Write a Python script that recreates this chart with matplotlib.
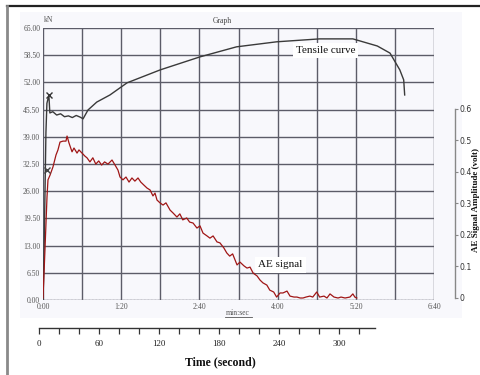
import matplotlib
matplotlib.use("Agg")
import matplotlib.pyplot as plt
from matplotlib.lines import Line2D
from matplotlib.patches import Rectangle

# ---------------- data ----------------
# Tensile curve: time (s, graph clock) vs load (kN)
tensile_t = [0, 1, 2, 3, 4, 6, 7, 10, 14, 18, 22, 26, 30, 34, 38, 41, 46, 55, 68.5, 86,
             120, 160.6, 198, 239, 283, 317, 342, 355, 365, 369, 370]
tensile_kn = [0, 10, 25, 40, 47, 49.0, 44.7, 45.0, 44.2, 44.5, 43.8, 44.0, 43.6, 44.1, 43.7,
              43.3, 45.4, 47.3, 49.0, 51.9, 55.0, 58.1, 60.5, 61.7, 62.4, 62.4, 60.7, 59.0,
              55.0, 52.6, 49.0]

# AE signal: time (s) vs amplitude (volt)
ae_t = [0, 2, 4.1, 5.1, 7.2, 10.2, 13.3, 15.3, 17.4, 20.5, 23.5, 24.6, 26.6, 29.7, 31.7,
        34.8, 36.8, 39.9, 43, 45, 48, 51, 54, 57, 60, 63, 66.5, 70.6, 73.7, 76.7, 78.8,
        81.8, 84.9, 88, 91, 94, 97.2, 100, 103, 106.4, 109.5, 112.5, 114.6, 116.6, 119.7,
        122.8, 125.8, 130, 133, 137, 140, 143, 147, 150, 153.5, 157.5, 160.6, 163.7, 167.8,
        170.8, 174, 178, 181, 185, 188, 191, 194, 198.5, 201.5, 205.6, 208.7, 211.8, 215,
        219, 222, 225, 229, 232, 236, 239, 242.5, 245.5, 249.6, 252.7, 256.8, 259.8, 263,
        266, 269, 273, 276, 280, 283, 287.5, 290.5, 293.6, 297.7, 301.8, 304.9, 309, 314,
        317, 319, 321]
ae_v = [0, 0.152, 0.321, 0.375, 0.39, 0.416, 0.454, 0.47, 0.495, 0.498, 0.498, 0.514,
        0.492, 0.464, 0.476, 0.46, 0.47, 0.46, 0.45, 0.445, 0.432, 0.445, 0.425, 0.435,
        0.422, 0.432, 0.425, 0.438, 0.422, 0.406, 0.384, 0.375, 0.384, 0.368, 0.381, 0.371,
        0.381, 0.368, 0.359, 0.349, 0.343, 0.324, 0.333, 0.311, 0.302, 0.295, 0.302, 0.279,
        0.27, 0.257, 0.267, 0.248, 0.254, 0.241, 0.238, 0.222, 0.229, 0.206, 0.197, 0.19,
        0.197, 0.178, 0.175, 0.159, 0.143, 0.133, 0.14, 0.105, 0.114, 0.102, 0.095, 0.098,
        0.079, 0.07, 0.057, 0.048, 0.041, 0.025, 0.019, 0.003, 0.016, 0.016, 0.022, 0.006,
        0.003, 0.003, 0, 0, 0.003, 0.006, 0.003, 0.019, 0.003, 0.006, 0, 0.013, 0.003, 0,
        0.003, 0, 0.003, 0.013, 0.003, 0]

# markers
tensile_mark = (6, 49.0)
ae_mark = (4.1, 0.406)

# tick labels
load_ticks = [0, 6.5, 13, 19.5, 26, 32.5, 39, 45.5, 52, 58.5, 65]
load_labels = ["0.00", "6.50", "13.00", "19.50", "26.00", "32.50", "39.00", "45.50",
               "52.00", "58.50", "65.00"]
clock_ticks = [0, 80, 160, 240, 320, 400]
clock_labels = ["0:00", "1:20", "2:40", "4:00", "5:20", "6:40"]
volt_ticks = [0, 0.1, 0.2, 0.3, 0.4, 0.5, 0.6]
volt_labels = ["0", "0.1", "0.2", "0.3", "0.4", "0.5", "0.6"]
sec_ticks = list(range(0, 321, 20))
sec_labels = ["0", "60", "120", "180", "240", "300"]

SERIF = ["Liberation Serif", "DejaVu Serif"]
W, H = 480, 375

fig = plt.figure(figsize=(4.8, 3.75), dpi=100)
fig.patch.set_facecolor("white")

def fx(px):
    return px / W

def fy(py):
    return (H - py) / H

# scanned background tint
bg = Rectangle((fx(20), fy(318)), fx(442), (318 - 12) / H,
               transform=fig.transFigure, facecolor="#f8f8fc", edgecolor="none", zorder=-5)
fig.patches.append(bg)
# outer frame
fig.lines.append(Line2D([fx(7), fx(480)], [fy(6), fy(6)], transform=fig.transFigure,
                        color="#222222", lw=1.6, zorder=-4))
fig.lines.append(Line2D([fx(7), fx(7)], [fy(6), fy(375)], transform=fig.transFigure,
                        color="#8a8a8a", lw=2.0, zorder=-4))

# ---------------- main graph ----------------
ax = fig.add_axes([fx(43), fy(300), fx(391), 272 / H])
ax.set_facecolor("none")
ax.set_xlim(0, 400)
ax.set_ylim(0, 65)
for s in ax.spines.values():
    s.set_visible(False)
ax.set_xticks(list(range(0, 401, 40)))
ax.set_xticklabels([clock_labels[clock_ticks.index(v)] if v in clock_ticks else ""
                    for v in range(0, 401, 40)])
ax.set_yticks(load_ticks)
ax.set_yticklabels(load_labels)
ax.tick_params(length=0, labelsize=5.5, colors="#555555", pad=2)
for lab in ax.get_xticklabels() + ax.get_yticklabels():
    lab.set_family(SERIF)
ax.grid(True, color="#5c5c68", lw=1.0)
ax.axhline(0, color="#9a9aa5", lw=1.0, ls=(0, (1, 1.5)), zorder=2)
ax.set_axisbelow(True)

ax.plot(tensile_t, tensile_kn, color="#3a3a3a", lw=1.0, zorder=3)
ax.plot(*tensile_mark, marker="x", color="#333333", ms=4, mew=1, zorder=4)

ax.text(259, 59.6, "Tensile curve", family=SERIF, fontsize=8, color="#111111",
        va="center", ha="left", zorder=5,
        bbox=dict(facecolor="white", edgecolor="none", pad=2))
ax.text(220, 8.4, "AE signal", family=SERIF, fontsize=8, color="#111111",
        va="center", ha="left", zorder=5,
        bbox=dict(facecolor="white", edgecolor="none", pad=2.5))

fig.text(fx(44), fy(20), "kN", family=SERIF, fontsize=5.5, color="#555555",
         ha="left", va="center")
fig.text(fx(222), fy(21), "Graph", family=SERIF, fontsize=5.5, color="#444444",
         ha="center", va="center")
fig.text(fx(238), fy(313), "min:sec", family=SERIF, fontsize=5.5, color="#555555",
         ha="center", va="center")
fig.lines.append(Line2D([fx(225), fx(252)], [fy(317), fy(317)], transform=fig.transFigure,
                        color="#555555", lw=0.6))

# ---------------- AE amplitude axis ----------------
ax2 = ax.twinx()
ax2.set_ylim(-0.00635, 0.857)
for k in ("top", "bottom", "left"):
    ax2.spines[k].set_visible(False)
ax2.spines["right"].set_position(("axes", (455 - 43) / 391))
ax2.spines["right"].set_bounds(0, 0.6)
ax2.spines["right"].set_color("#888888")
ax2.spines["right"].set_linewidth(1.0)
ax2.set_yticks(volt_ticks)
ax2.set_yticklabels(volt_labels)
ax2.tick_params(axis="y", length=2.5, width=0.8, color="#888888", labelsize=5.6,
                labelcolor="#333333", pad=1)
ax2.plot(ae_t, ae_v, color="#a01616", lw=0.9, zorder=3)
ax2.plot(*ae_mark, marker="x", color="#444444", ms=4, mew=1, zorder=4)
fig.text(fx(476.2), fy(200), "AE Signal Amplitude (volt)", family=SERIF, fontsize=6.5,
         fontweight="bold", rotation=90, ha="center", va="center", color="#111111")

# ---------------- time (second) axis ----------------
ax3 = fig.add_axes([fx(39), fy(328), fx(336), 0.0005])
ax3.set_xlim(0, 336)
ax3.set_ylim(0, 1)
ax3.set_facecolor("none")
for k in ("top", "left", "right"):
    ax3.spines[k].set_visible(False)
ax3.spines["bottom"].set_color("#333333")
ax3.spines["bottom"].set_linewidth(1.0)
ax3.set_yticks([])
ax3.set_xticks(sec_ticks)
ax3.set_xticklabels([str(v) if str(v) in sec_labels else "" for v in sec_ticks])
ax3.tick_params(axis="x", length=4, width=0.9, color="#333333", labelsize=6.5,
                labelcolor="#222222", pad=5)
for lab in ax3.get_xticklabels():
    lab.set_family(SERIF)
fig.text(fx(220), fy(362), "Time (second)", family=SERIF, fontsize=8.5,
         fontweight="bold", ha="center", va="center", color="#111111")

fig.savefig("out.png", dpi=100)
